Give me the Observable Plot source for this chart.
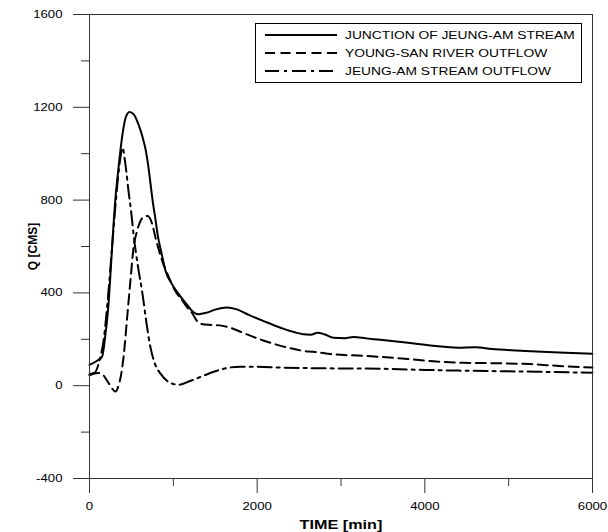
<!DOCTYPE html>
<html>
<head>
<meta charset="utf-8">
<script src="https://cdn.jsdelivr.net/npm/d3@7"></script>
<script src="https://cdn.jsdelivr.net/npm/@observablehq/plot@0.6"></script>
<style>
  body { margin: 0; background: #fff; }
  #wrap { position: relative; width: 608px; height: 532px; }
  #wrap svg { display: block; }
  #legend { position: absolute; left: 255px; top: 23px; }
</style>
</head>
<body>
<div id="wrap"></div>
<script>
// ---- data ----
const seriesNames = ["JUNCTION OF JEUNG-AM STREAM", "YOUNG-SAN RIVER OUTFLOW", "JEUNG-AM STREAM OUTFLOW"];

const junctionT = [0, 100, 150, 190, 227, 250, 274, 310, 346, 394, 430, 477, 530, 585, 630, 668, 700, 728, 760, 788, 811, 860, 907, 980, 1062, 1150, 1230, 1300, 1400, 1500, 1640, 1750, 1900, 2100, 2280, 2450, 2550, 2640, 2720, 2800, 2910, 3050, 3150, 3300, 3470, 3800, 4100, 4390, 4600, 4800, 5200, 5600, 6000];
const junctionQ = [90, 110, 125, 220, 353, 480, 624, 810, 939, 1085, 1154, 1180, 1168, 1125, 1075, 1020, 950, 870, 780, 715, 654, 570, 495, 440, 396, 355, 320, 308, 315, 328, 337, 330, 305, 275, 250, 230, 222, 220, 228, 222, 207, 205, 210, 204, 198, 185, 172, 164, 166, 158, 150, 143, 138];

const youngsanT = [0, 100, 150, 230, 310, 350, 370, 405, 453, 490, 525, 570, 608, 650, 692, 730, 760, 788, 823, 870, 930, 1020, 1110, 1170, 1230, 1280, 1325, 1450, 1550, 1680, 1850, 2080, 2250, 2430, 2550, 2670, 2840, 3000, 3200, 3440, 3800, 4100, 4460, 4800, 5260, 5600, 6000];
const youngsanQ = [45, 55, 50, 10, -25, 5, 34, 120, 310, 460, 594, 670, 710, 728, 732, 715, 680, 637, 590, 535, 482, 410, 366, 335, 310, 280, 267, 262, 260, 250, 225, 194, 175, 159, 150, 146, 138, 133, 130, 125, 115, 105, 99, 97, 93, 85, 78];

const jeungamT = [0, 60, 120, 170, 220, 270, 320, 360, 394, 430, 465, 500, 525, 580, 632, 680, 728, 780, 847, 950, 1062, 1200, 1360, 1500, 1600, 1800, 2000, 2280, 2800, 3470, 4000, 4400, 5000, 5500, 6000];
const jeungamQ = [50, 55, 110, 200, 380, 600, 820, 960, 1025, 950, 840, 740, 654, 510, 396, 270, 164, 95, 52, 15, 4, 20, 43, 62, 73, 82, 82, 78, 75, 73, 68, 65, 62, 59, 56];

const xMajorTicks = [0, 2000, 4000, 6000];
const xMinorTicks = [1000, 3000, 5000];
const yMajorTicks = [-400, 0, 400, 800, 1200, 1600];
const yMinorTicks = [-200, 200, 600, 1000, 1400];
const xTitle = "TIME [min]";
const yTitle = "Q [CMS]";

// ---- tables ----
const toRows = (T, Q) => T.map((t, i) => ({t, q: Q[i]}));
const junction = toRows(junctionT, junctionQ);
const youngsan = toRows(youngsanT, youngsanQ);
const jeungam = toRows(jeungamT, jeungamQ);

const dashes = [null, "10,5.5", "14,5,3,5"];
const axisColor = "#333";
const plain = d => String(d);

const plot = Plot.plot({
  width: 608,
  height: 532,
  marginLeft: 89,
  marginRight: 16,
  marginTop: 14,
  marginBottom: 54,
  x: {domain: [0, 6000]},
  y: {domain: [-400, 1600]},
  style: {fontFamily: "Arial, 'Liberation Sans', sans-serif", fontSize: "11px", color: "#000", background: "#fff"},
  marks: [
    Plot.axisY({ticks: yMajorTicks, tickFormat: plain, tickSize: 16, tickPadding: 11, label: null, stroke: axisColor, fill: "#000"}),
    Plot.axisY({ticks: yMinorTicks, tickSize: 8, tickFormat: () => "", label: null, stroke: axisColor}),
    Plot.axisX({ticks: xMajorTicks, tickFormat: plain, tickSize: 15, tickPadding: 9, label: null, stroke: axisColor, fill: "#000"}),
    Plot.axisX({ticks: xMinorTicks, tickSize: 8, tickFormat: () => "", label: null, stroke: axisColor}),
    Plot.line(junction, {x: "t", y: "q", stroke: "#000", strokeWidth: 2, curve: "monotone-x"}),
    Plot.line(youngsan, {x: "t", y: "q", stroke: "#000", strokeWidth: 2, strokeDasharray: dashes[1], curve: "monotone-x"}),
    Plot.line(jeungam, {x: "t", y: "q", stroke: "#000", strokeWidth: 2, strokeDasharray: dashes[2], curve: "monotone-x"}),
    Plot.frame({stroke: axisColor, strokeWidth: 1}),
    Plot.text([xTitle], {text: d => d, frameAnchor: "bottom", lineAnchor: "middle", dy: 46, fontWeight: "bold", fontSize: 13.5, fill: "#000"}),
    Plot.text([yTitle], {text: d => d, frameAnchor: "left", textAnchor: "middle", lineAnchor: "middle", dx: -56, rotate: -90, fontWeight: "bold", fontSize: 12, fill: "#000"})
  ]
});

// widen horizontal text glyphs like the reference (scale about each text's own anchor)
d3.select(plot).selectAll("text").each(function () {
  const tr = this.getAttribute("transform") || "";
  if (tr.includes("rotate")) return;
  let x = parseFloat(this.getAttribute("x")), y = parseFloat(this.getAttribute("y"));
  if (!isFinite(x)) x = 0;
  if (!isFinite(y)) y = 0;
  this.setAttribute("transform", `${tr} translate(${x},${y}) scale(1.2,1) translate(${-x},${-y})`);
});

const wrap = document.getElementById("wrap");
wrap.appendChild(plot);

// legend box (inside plot area, as in the reference)
const lw = 327, lh = 60;
const leg = d3.select(wrap).append("svg").attr("id", "legend").attr("width", lw).attr("height", lh);
leg.append("rect").attr("x", 0.5).attr("y", 0.5).attr("width", lw - 1).attr("height", lh - 1)
  .attr("fill", "#fff").attr("stroke", "#000").attr("stroke-width", 1);
seriesNames.forEach((name, i) => {
  const yy = 12 + i * 18;
  const ln = leg.append("line").attr("x1", 10).attr("x2", 82).attr("y1", yy).attr("y2", yy)
    .attr("stroke", "#000").attr("stroke-width", 2);
  if (dashes[i]) ln.attr("stroke-dasharray", dashes[i]);
  leg.append("text").attr("transform", `translate(90,${yy}) scale(1.2,1)`)
    .attr("dy", "0.35em")
    .attr("font-family", "Arial, 'Liberation Sans', sans-serif").attr("font-size", 11.5)
    .attr("fill", "#000").text(name);
});
</script>
</body>
</html>
